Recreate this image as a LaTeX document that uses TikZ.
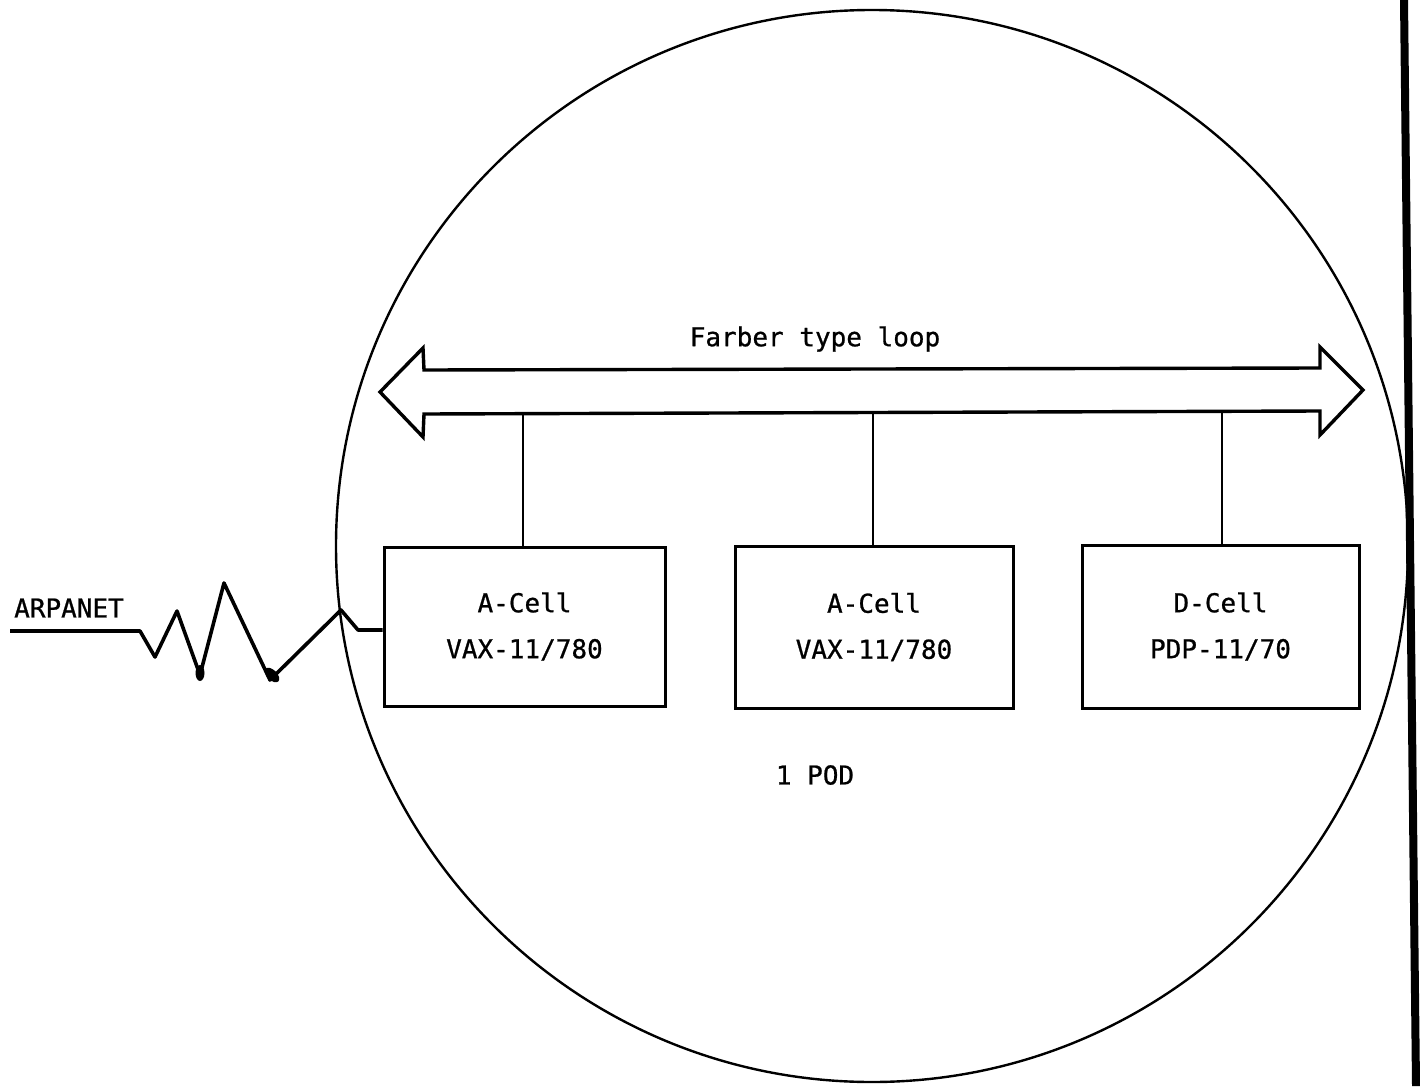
\documentclass[tikz,border=0pt]{standalone}
\usepackage{fontspec}
\newfontfamily\tw[FakeBold=0.8]{DejaVu Sans Mono}
\begin{document}
\begin{tikzpicture}[x=1pt,y=-1pt,
  cellbox/.style={draw,line width=3pt,minimum width=280pt,minimum height=160pt,inner sep=0pt,align=center,font=\tw\fontsize{26}{46}\selectfont},
  lbl/.style={font=\tw\fontsize{26}{30}\selectfont,inner sep=0pt},
  wire/.style={line width=2.2pt}]
\useasboundingbox (0,0) rectangle (1420,1086);
\begin{scope}
\clip (0,0) rectangle (1420,1086);
\draw[line width=2.4pt] (872,546) circle[radius=536];
\end{scope}
% right bar
\fill (1400,0) -- (1408,0) -- (1420,1086) -- (1412,1086) -- cycle;
% double arrow
\draw[line width=3.4pt,line join=miter] (380,392) -- (423,348) -- (424,370) -- (1320,368) -- (1320,347) -- (1363,390) -- (1320,435) -- (1320,411) -- (424,414) -- (423,437) -- cycle;
\node[lbl] (loop) at (815,339) {Farber type loop};
\coordinate (t1) at (523,414);
\coordinate (t2) at (873,414);
\coordinate (t3) at (1222,412);
% boxes
\node[cellbox,minimum width=281pt,minimum height=159pt] (b1) at (524.5,626.5) {A-Cell\\VAX-11/780};
\node[cellbox,minimum width=278pt,minimum height=162pt] (b2) at (874,627) {A-Cell\\VAX-11/780};
\node[cellbox,minimum width=277pt,minimum height=163pt] (b3) at (1220.5,626.5) {D-Cell\\PDP-11/70};
\draw[wire] (t1) -- (t1 |- b1.north);
\draw[wire] (t2) -- (t2 |- b2.north);
\draw[wire] (t3) -- (t3 |- b3.north);
% ARPANET
\node[lbl,anchor=west] (arpa) at (14,608) {ARPANET};
\coordinate (a0) at (10,631);
\draw[line width=3.6pt,line join=round] (a0) -- (140,631) -- (155,657) -- (177,611) -- (200,675) -- (224,583) -- (270,680) -- (341,610) -- (358,630) -- (b1.west |- 0,630);
\fill (200,673) ellipse[x radius=4.5pt,y radius=8pt];
\fill[rotate around={45:(272,675)}] (272,675) ellipse[x radius=5pt,y radius=9pt];
\node[lbl] (pod) at (815,775) {1 POD};
\end{tikzpicture}
\end{document}
